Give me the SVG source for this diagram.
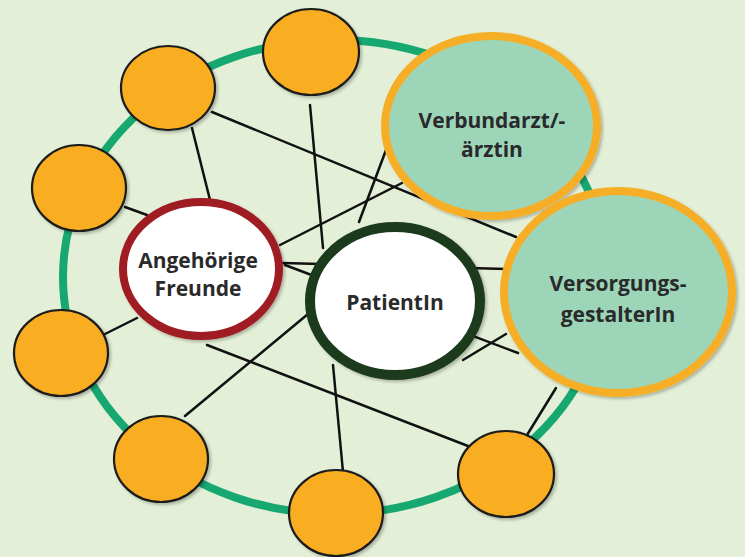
<svg xmlns="http://www.w3.org/2000/svg" width="745" height="557" viewBox="0 0 745 557">
<defs>
<filter id="sh" x="-20%" y="-20%" width="140%" height="140%">
<feDropShadow dx="2" dy="2" stdDeviation="1.5" flood-color="#000" flood-opacity="0.25"/>
</filter>
</defs>
<style>
.ln{stroke:#111;stroke-width:2.5;fill:none;stroke-linecap:round}
.or{fill:#f9ae22;stroke:#1a1a1a;stroke-width:2.2;filter:url(#sh)}
.big{fill:#9dd5b9;stroke:#f6ae26;stroke-width:8;filter:url(#sh)}
.tx{font-family:"Open Sans","Liberation Sans",sans-serif;font-weight:700;font-size:21px;fill:#2a2a2a;text-anchor:middle}
</style>
<rect width="745" height="557" fill="#e3efd7"/>
<ellipse id="ring" cx="335" cy="277" rx="272" ry="237" fill="none" stroke="#17a872" stroke-width="8"/>
<g id="connectors">
<line class="ln" x1="212" y1="112" x2="516" y2="237"/>
<line class="ln" x1="192" y1="128" x2="210" y2="200"/>
<line class="ln" x1="125" y1="207" x2="147" y2="215"/>
<line class="ln" x1="310" y1="105" x2="323" y2="248"/>
<line class="ln" x1="280" y1="245" x2="402" y2="183"/>
<line class="ln" x1="359" y1="222" x2="386" y2="150"/>
<line class="ln" x1="283" y1="263" x2="506" y2="269"/>
<line class="ln" x1="285" y1="265" x2="518" y2="353"/>
<line class="ln" x1="463" y1="360" x2="506" y2="334"/>
<line class="ln" x1="105" y1="334" x2="137" y2="318"/>
<line class="ln" x1="185" y1="416" x2="308" y2="314"/>
<line class="ln" x1="207" y1="345" x2="468" y2="446"/>
<line class="ln" x1="333" y1="365" x2="343" y2="472"/>
<line class="ln" x1="527" y1="435" x2="556" y2="388"/>
</g>
<g id="o1"><ellipse class="or" cx="168" cy="88" rx="47" ry="42"/></g>
<g id="o2"><ellipse class="or" cx="311" cy="52" rx="48" ry="43"/></g>
<g id="o3"><ellipse class="or" cx="79" cy="188" rx="47" ry="43"/></g>
<g id="o4"><ellipse class="or" cx="61" cy="353" rx="47" ry="43"/></g>
<g id="o5"><ellipse class="or" cx="161" cy="459" rx="47" ry="43"/></g>
<g id="o6"><ellipse class="or" cx="336" cy="513" rx="47" ry="43"/></g>
<g id="o7"><ellipse class="or" cx="506" cy="474" rx="48" ry="43"/></g>
<g id="angehoerige">
<ellipse cx="201" cy="269" rx="78" ry="67" fill="#fff" stroke="#9e1b22" stroke-width="8" filter="url(#sh)"/>
<text class="tx" x="198" y="268">Angehörige</text>
<text class="tx" x="198" y="296">Freunde</text>
</g>
<g id="patient">
<ellipse cx="395" cy="301" rx="85" ry="74" fill="#fff" stroke="#1b3a1c" stroke-width="10" filter="url(#sh)"/>
<text class="tx" x="395" y="310">PatientIn</text>
</g>
<g id="verbundarzt">
<ellipse class="big" cx="491" cy="126" rx="106" ry="90"/>
<text class="tx" x="492" y="128">Verbundarzt/-</text>
<text class="tx" x="492" y="157">ärztin</text>
</g>
<g id="versorgung">
<ellipse class="big" cx="618" cy="292" rx="114" ry="101"/>
<text class="tx" x="618" y="291">Versorgungs-</text>
<text class="tx" x="618" y="322">gestalterIn</text>
</g>
</svg>
